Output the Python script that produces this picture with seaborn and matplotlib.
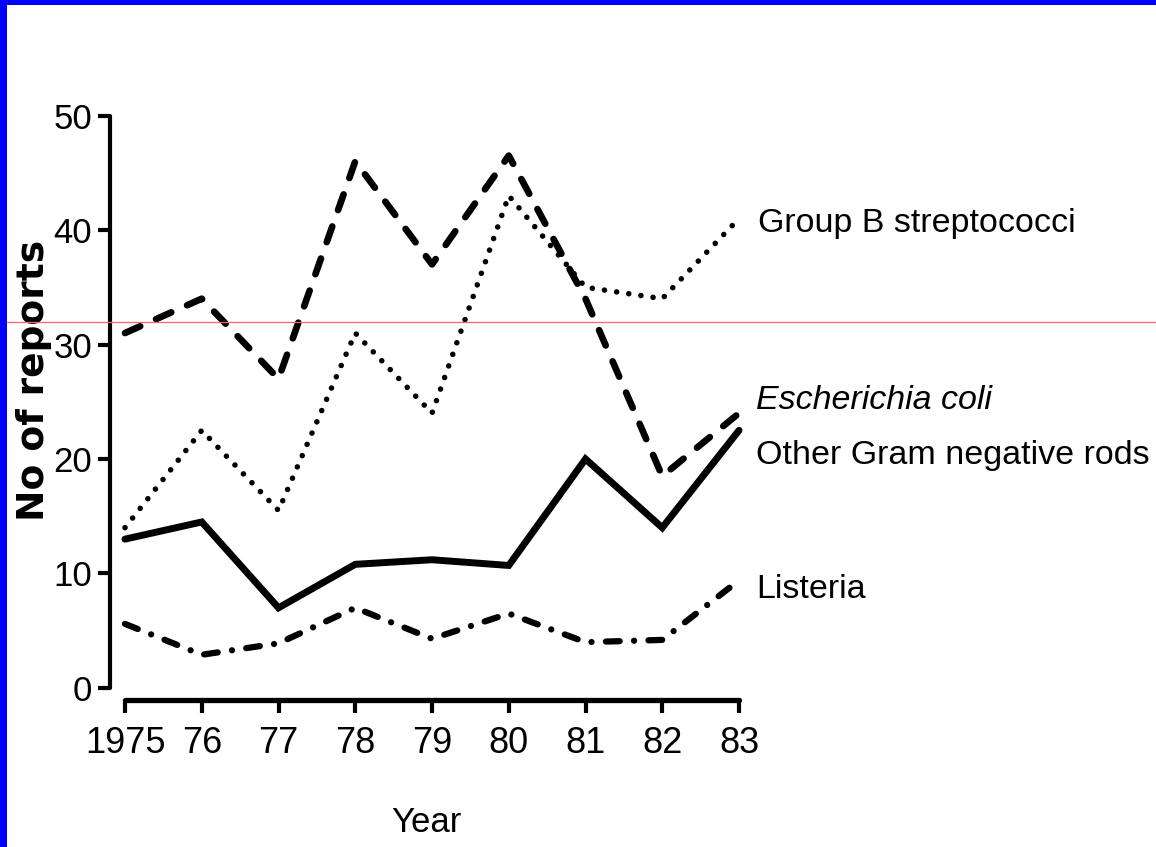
import matplotlib
matplotlib.use("Agg")
import matplotlib.pyplot as plt
import seaborn as sns
import pandas as pd
from matplotlib.lines import Line2D
from matplotlib.patches import Rectangle

# Reports of neonatal bacteraemia by organism, 1975-83
years = [1975, 1976, 1977, 1978, 1979, 1980, 1981, 1982, 1983]
year_labels = ["1975", "76", "77", "78", "79", "80", "81", "82", "83"]
group_b_strep = [14, 22.5, 15.5, 31, 24, 43, 35, 34, 41]
e_coli = [31, 34, 27, 46, 37, 46.5, 34, 18.5, 24]
other_gram_neg = [13, 14.5, 7, 10.8, 11.2, 10.7, 20, 14, 22.5]
listeria = [5.6, 2.9, 3.9, 7.0, 4.3, 6.5, 4.0, 4.2, 9.4]
y_ticks = [0, 10, 20, 30, 40, 50]

sns.set_style("white")
plt.rcParams["font.family"] = ["Liberation Sans", "DejaVu Sans"]
for key in ("text.color", "axes.labelcolor", "xtick.color", "ytick.color"):
    plt.rcParams[key] = "black"

W, H = 1156, 847
fig = plt.figure(figsize=(W / 100, H / 100), dpi=100)
fig.patch.set_facecolor("white")
ax = fig.add_axes([110 / W, (H - 700) / H, 635 / W, 587 / H])
ax.set_facecolor("white")

df = pd.DataFrame({
    "Year": years,
    "Group B streptococci": group_b_strep,
    "Escherichia coli": e_coli,
    "Other Gram negative rods": other_gram_neg,
    "Listeria": listeria,
})

styles = {
    "Group B streptococci": dict(lw=4.0, ls=(0, (0.01, 2.2))),
    "Escherichia coli": dict(lw=4.8, ls=(0, (2.5, 2.6))),
    "Other Gram negative rods": dict(lw=5.0, ls="-"),
    "Listeria": dict(lw=4.5, ls=(0, (2.2, 2.3, 0.01, 2.3))),
}

for name, st in styles.items():
    sns.lineplot(data=df, x="Year", y=name, ax=ax, color="black",
                 linewidth=st["lw"], linestyle=st["ls"],
                 dash_capstyle="round", solid_capstyle="round",
                 solid_joinstyle="miter", clip_on=False)

# Series labels at the right-hand end of each line
label_fs = 24.5
ax.text(1983.25, 39.8, "Group B streptococci", fontsize=label_fs, va="baseline", ha="left")
ax.text(1983.22, 24.4, "Escherichia coli", fontsize=label_fs, style="italic", va="baseline", ha="left")
ax.text(1983.22, 19.6, "Other Gram negative rods", fontsize=label_fs, va="baseline", ha="left")
ax.text(1983.22, 7.9, "Listeria", fontsize=label_fs, va="baseline", ha="left")

ax.set_xlim(1975 - 15 / 76.75, 1975 + 620 / 76.75)
ax.set_ylim(-1.05, 50.22)

ax.set_xticks(years)
ax.set_xticklabels(year_labels)
ax.set_yticks(y_ticks)
ax.set_yticklabels([str(v) for v in y_ticks])

for s in ("top", "right"):
    ax.spines[s].set_visible(False)
ax.spines["left"].set_bounds(0, 50)
ax.spines["left"].set_linewidth(3.0)
ax.spines["bottom"].set_bounds(1975, 1983)
ax.spines["bottom"].set_linewidth(3.8)
for s in ("left", "bottom"):
    ax.spines[s].set_color("black")
    ax.spines[s].set_capstyle("round")

ax.tick_params(axis="y", direction="out", length=9, width=3, pad=4,
               labelsize=25, left=True)
ax.tick_params(axis="x", direction="out", length=9, width=3, pad=10,
               labelsize=26, bottom=True)

ax.set_xlabel("Year", fontsize=25, va="top")
ax.xaxis.set_label_coords((426 - 110) / 635, (700 - 806) / 587)
ax.set_ylabel("No of reports", fontsize=27, fontweight="bold",
              family=["DejaVu Sans"])
ax.yaxis.set_label_coords((52 - 110) / 635, (700 - 380) / 587)

# Thin red guide line across the page and blue frame edges
fig.add_artist(Line2D([7 / W, 1], [1 - 322 / H, 1 - 322 / H],
                      transform=fig.transFigure, color="#ff6464", lw=0.9))
fig.add_artist(Rectangle((0, 1 - 5 / H), 1, 5 / H, transform=fig.transFigure,
                         color="#0000ff", lw=0))
fig.add_artist(Rectangle((0, 0), 7 / W, 1, transform=fig.transFigure,
                         color="#0000ff", lw=0))

fig.savefig("out.png", dpi=100, facecolor="white")
